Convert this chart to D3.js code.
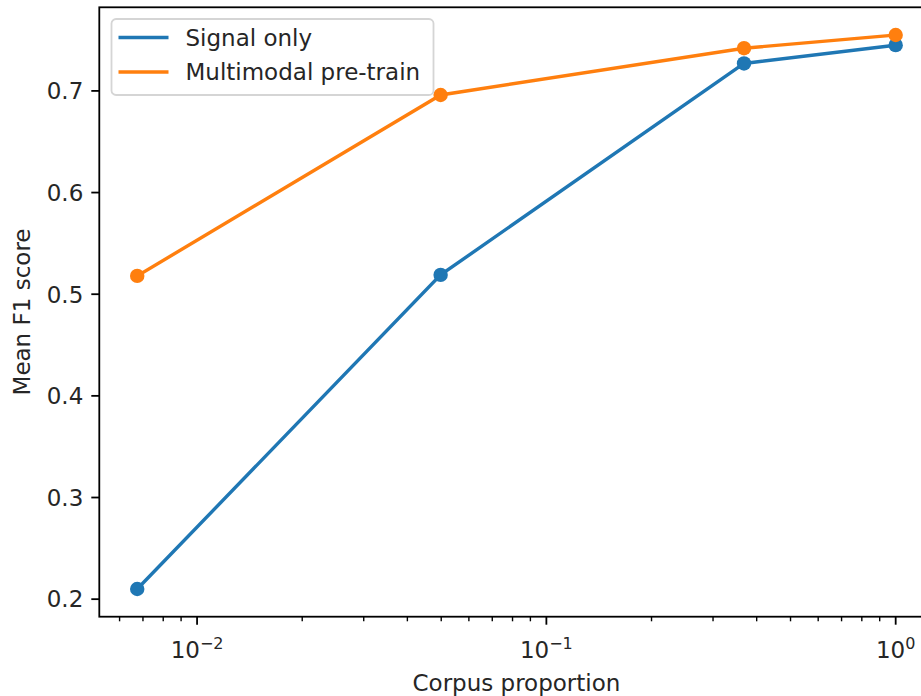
<!DOCTYPE html>
<html>
<head>
<meta charset="utf-8">
<script src="https://cdn.jsdelivr.net/npm/d3@7"></script>
<style>
  body { margin: 0; background: #fff; }
  svg { display: block; font-family: "DejaVu Sans", sans-serif; }
</style>
</head>
<body>
<svg id="chart"></svg>
<script>
// corpus proportions (log x axis)
var proportions = [0.00674, 0.0498, 0.368, 1.0];
var signalOnly = [0.210, 0.519, 0.727, 0.745];
var multimodal = [0.518, 0.696, 0.742, 0.755];
var seriesNames = ["Signal only", "Multimodal pre-train"];
var seriesColors = ["#1f77b4", "#ff7f0e"];
var yTicks = [0.2, 0.3, 0.4, 0.5, 0.6, 0.7];
var xMajor = [0.01, 0.1, 1];
var xMajorExp = ["\u22122", "\u22121", "0"];

var width = 921, height = 696;
// plot area edges (note: "top" is reserved on window, so use a margin object)
var plot = { left: 99.3, right: 933.6, top: 7.3, bottom: 616.7 };
var fs = 23;

var svg = d3.select("#chart").attr("width", width).attr("height", height);
svg.append("rect").attr("width", width).attr("height", height).attr("fill", "#fff");

// 5% margins like matplotlib
var lx = d3.extent(proportions).map(Math.log10);
var padX = (lx[1] - lx[0]) * 0.05;
var x = d3.scaleLog()
          .domain([Math.pow(10, lx[0] - padX), Math.pow(10, lx[1] + padX)])
          .range([plot.left, plot.right]);
var allY = signalOnly.concat(multimodal);
var ly = d3.extent(allY);
var padY = (ly[1] - ly[0]) * 0.05;
var y = d3.scaleLinear()
          .domain([ly[0] - padY, ly[1] + padY])
          .range([plot.bottom, plot.top]);

// minor ticks
var minor = [];
[-3, -2, -1, 0].forEach(function(e) {
    for (var m = 2; m <= 9; m++) {
        var v = m * Math.pow(10, e);
        if (v >= x.domain()[0] && v <= x.domain()[1]) minor.push(v);
    }
});

var axisColor = "#000";
svg.append("g").selectAll("line").data(minor).enter().append("line")
   .attr("x1", function(d){ return x(d); }).attr("x2", function(d){ return x(d); })
   .attr("y1", plot.bottom).attr("y2", plot.bottom + 4.6)
   .attr("stroke", axisColor).attr("stroke-width", 1.4);

svg.append("g").selectAll("line").data(xMajor).enter().append("line")
   .attr("x1", function(d){ return x(d); }).attr("x2", function(d){ return x(d); })
   .attr("y1", plot.bottom).attr("y2", plot.bottom + 8)
   .attr("stroke", axisColor).attr("stroke-width", 1.8);

var xl = svg.append("g").selectAll("text").data(xMajor).enter().append("text")
   .attr("x", function(d){ return x(d); })
   .attr("y", 658)
   .attr("text-anchor", "middle")
   .attr("font-size", fs)
   .attr("fill", "#262626");
xl.append("tspan").text("10");
xl.append("tspan").attr("dy", -9).attr("font-size", 16).text(function(d, i){ return xMajorExp[i]; });

svg.append("g").selectAll("line").data(yTicks).enter().append("line")
   .attr("x1", plot.left - 8).attr("x2", plot.left)
   .attr("y1", function(d){ return y(d); }).attr("y2", function(d){ return y(d); })
   .attr("stroke", axisColor).attr("stroke-width", 1.8);

svg.append("g").selectAll("text").data(yTicks).enter().append("text")
   .attr("x", plot.left - 16)
   .attr("y", function(d){ return y(d) + 8.3; })
   .attr("text-anchor", "end")
   .attr("font-size", fs)
   .attr("fill", "#262626")
   .text(function(d){ return d.toFixed(1); });

// axis labels
svg.append("text")
   .attr("x", (plot.left + plot.right) / 2).attr("y", 691)
   .attr("text-anchor", "middle").attr("font-size", fs).attr("fill", "#262626")
   .text("Corpus proportion");
svg.append("text")
   .attr("transform", "translate(30," + ((plot.top + plot.bottom) / 2) + ") rotate(-90)")
   .attr("text-anchor", "middle").attr("font-size", fs).attr("fill", "#262626")
   .text("Mean F1 score");

// series
var line = d3.line().x(function(d){ return x(d[0]); }).y(function(d){ return y(d[1]); });
[signalOnly, multimodal].forEach(function(vals, i) {
    var pts = proportions.map(function(p, j){ return [p, vals[j]]; });
    var g = svg.append("g");
    g.append("path").datum(pts)
     .attr("d", line).attr("fill", "none")
     .attr("stroke", seriesColors[i]).attr("stroke-width", 3.4)
     .attr("stroke-linecap", "square");
    g.selectAll("circle").data(pts).enter().append("circle")
     .attr("cx", function(d){ return x(d[0]); })
     .attr("cy", function(d){ return y(d[1]); })
     .attr("r", 7.2)
     .attr("fill", seriesColors[i]);
});

// spines
svg.append("rect")
   .attr("x", plot.left).attr("y", plot.top)
   .attr("width", plot.right - plot.left).attr("height", plot.bottom - plot.top)
   .attr("fill", "none").attr("stroke", axisColor).attr("stroke-width", 1.8);

// legend
var lg = svg.append("g").attr("transform", "translate(111.5,19)");
lg.append("rect")
  .attr("width", 322).attr("height", 76).attr("rx", 4.6)
  .attr("fill", "#fff").attr("fill-opacity", 0.8)
  .attr("stroke", "#d5d5d5").attr("stroke-width", 1.8);
seriesNames.forEach(function(name, i) {
    var yy = 18.5 + i * 34.5;
    lg.append("line")
      .attr("x1", 7).attr("x2", 57).attr("y1", yy).attr("y2", yy)
      .attr("stroke", seriesColors[i]).attr("stroke-width", 3.4);
    lg.append("text")
      .attr("x", 74).attr("y", yy + 8.3)
      .attr("font-size", fs).attr("fill", "#262626")
      .text(name);
});
</script>
</body>
</html>
